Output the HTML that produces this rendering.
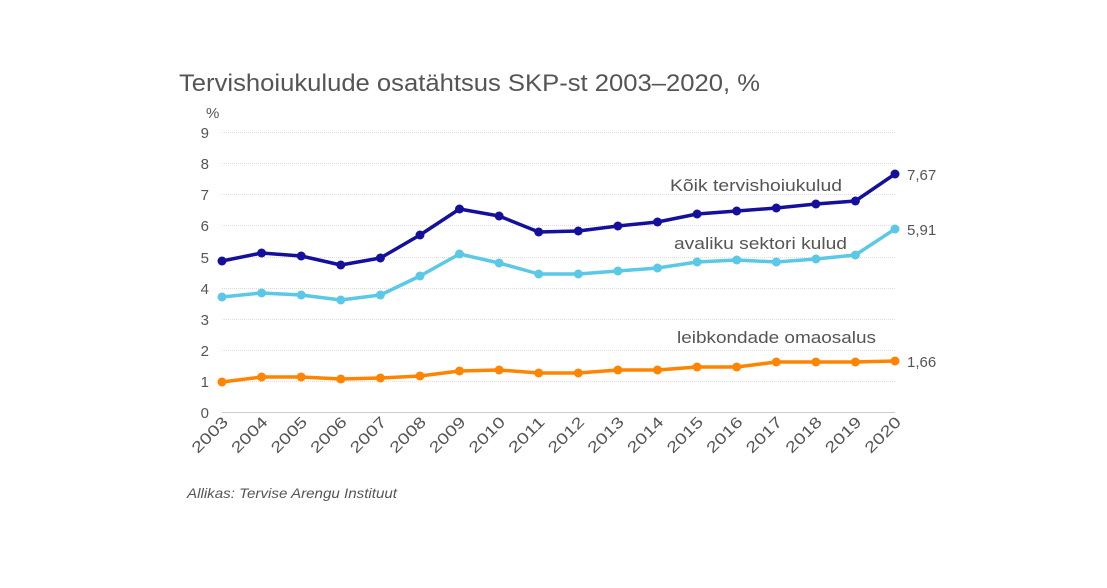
<!DOCTYPE html>
<html><head><meta charset="utf-8"><style>
html,body{margin:0;padding:0;background:#fff;}
svg text{font-family:"Liberation Sans",sans-serif;fill:#555;}
</style></head><body>
<svg width="1107" height="583" viewBox="0 0 1107 583" xmlns="http://www.w3.org/2000/svg">
<text x="179" y="91" font-size="24" textLength="581" lengthAdjust="spacingAndGlyphs">Tervishoiukulude osatähtsus SKP-st 2003–2020, %</text>
<text x="206" y="118" font-size="15">%</text>
<g stroke="#ddd" stroke-width="1" stroke-dasharray="1,1">
<line x1="222" x2="895" y1="132.5" y2="132.5"/><line x1="222" x2="895" y1="163.5" y2="163.5"/>
<line x1="222" x2="895" y1="194.5" y2="194.5"/><line x1="222" x2="895" y1="225.5" y2="225.5"/>
<line x1="222" x2="895" y1="257.5" y2="257.5"/><line x1="222" x2="895" y1="288.5" y2="288.5"/>
<line x1="222" x2="895" y1="319.5" y2="319.5"/><line x1="222" x2="895" y1="350.5" y2="350.5"/>
<line x1="222" x2="895" y1="381.5" y2="381.5"/>
</g>
<line x1="222" x2="895" y1="412.5" y2="412.5" stroke="#ccc"/>
<g font-size="15" text-anchor="end">
<text x="209" y="138">9</text><text x="209" y="169">8</text><text x="209" y="200">7</text>
<text x="209" y="231">6</text><text x="209" y="263">5</text><text x="209" y="294">4</text>
<text x="209" y="325">3</text><text x="209" y="356">2</text><text x="209" y="387">1</text>
<text x="209" y="418">0</text>
</g>
<g font-size="15.5" text-anchor="end">
<text transform="translate(229,423) rotate(-45)" textLength="44" lengthAdjust="spacingAndGlyphs">2003</text>
<text transform="translate(268.6,423) rotate(-45)" textLength="44" lengthAdjust="spacingAndGlyphs">2004</text>
<text transform="translate(308.2,423) rotate(-45)" textLength="44" lengthAdjust="spacingAndGlyphs">2005</text>
<text transform="translate(347.8,423) rotate(-45)" textLength="44" lengthAdjust="spacingAndGlyphs">2006</text>
<text transform="translate(387.4,423) rotate(-45)" textLength="44" lengthAdjust="spacingAndGlyphs">2007</text>
<text transform="translate(427,423) rotate(-45)" textLength="44" lengthAdjust="spacingAndGlyphs">2008</text>
<text transform="translate(466.5,423) rotate(-45)" textLength="44" lengthAdjust="spacingAndGlyphs">2009</text>
<text transform="translate(506.1,423) rotate(-45)" textLength="44" lengthAdjust="spacingAndGlyphs">2010</text>
<text transform="translate(545.7,423) rotate(-45)" textLength="44" lengthAdjust="spacingAndGlyphs">2011</text>
<text transform="translate(585.3,423) rotate(-45)" textLength="44" lengthAdjust="spacingAndGlyphs">2012</text>
<text transform="translate(624.9,423) rotate(-45)" textLength="44" lengthAdjust="spacingAndGlyphs">2013</text>
<text transform="translate(664.5,423) rotate(-45)" textLength="44" lengthAdjust="spacingAndGlyphs">2014</text>
<text transform="translate(704.1,423) rotate(-45)" textLength="44" lengthAdjust="spacingAndGlyphs">2015</text>
<text transform="translate(743.7,423) rotate(-45)" textLength="44" lengthAdjust="spacingAndGlyphs">2016</text>
<text transform="translate(783.3,423) rotate(-45)" textLength="44" lengthAdjust="spacingAndGlyphs">2017</text>
<text transform="translate(822.9,423) rotate(-45)" textLength="44" lengthAdjust="spacingAndGlyphs">2018</text>
<text transform="translate(862.4,423) rotate(-45)" textLength="44" lengthAdjust="spacingAndGlyphs">2019</text>
<text transform="translate(902,423) rotate(-45)" textLength="44" lengthAdjust="spacingAndGlyphs">2020</text>
</g>
<g fill="none" stroke-width="3.5" stroke-linejoin="round">
<polyline stroke="#15109c" points="222,261 261.6,253 301.2,256 340.8,265 380.4,258 420,235 459.5,209 499.1,216 538.7,232 578.3,231 617.9,226 657.5,222 697.1,214 736.7,211 776.3,208 815.9,204 855.4,201 895,174"/>
<polyline stroke="#5bc8e8" points="222,297 261.6,293 301.2,295 340.8,300 380.4,295 420,276 459.5,254 499.1,263 538.7,274 578.3,274 617.9,271 657.5,268 697.1,262 736.7,260 776.3,262 815.9,259 855.4,255 895,229"/>
<polyline stroke="#ff8400" points="222,382 261.6,377 301.2,377 340.8,379 380.4,378 420,376 459.5,371 499.1,370 538.7,373 578.3,373 617.9,370 657.5,370 697.1,367 736.7,367 776.3,362 815.9,362 855.4,362 895,361"/>
</g>
<g fill="#15109c">
<circle cx="222" cy="261" r="4.5"/><circle cx="261.6" cy="253" r="4.5"/><circle cx="301.2" cy="256" r="4.5"/><circle cx="340.8" cy="265" r="4.5"/><circle cx="380.4" cy="258" r="4.5"/><circle cx="420" cy="235" r="4.5"/><circle cx="459.5" cy="209" r="4.5"/><circle cx="499.1" cy="216" r="4.5"/><circle cx="538.7" cy="232" r="4.5"/><circle cx="578.3" cy="231" r="4.5"/><circle cx="617.9" cy="226" r="4.5"/><circle cx="657.5" cy="222" r="4.5"/><circle cx="697.1" cy="214" r="4.5"/><circle cx="736.7" cy="211" r="4.5"/><circle cx="776.3" cy="208" r="4.5"/><circle cx="815.9" cy="204" r="4.5"/><circle cx="855.4" cy="201" r="4.5"/><circle cx="895" cy="174" r="4.5"/>
</g>
<g fill="#5bc8e8">
<circle cx="222" cy="297" r="4.5"/><circle cx="261.6" cy="293" r="4.5"/><circle cx="301.2" cy="295" r="4.5"/><circle cx="340.8" cy="300" r="4.5"/><circle cx="380.4" cy="295" r="4.5"/><circle cx="420" cy="276" r="4.5"/><circle cx="459.5" cy="254" r="4.5"/><circle cx="499.1" cy="263" r="4.5"/><circle cx="538.7" cy="274" r="4.5"/><circle cx="578.3" cy="274" r="4.5"/><circle cx="617.9" cy="271" r="4.5"/><circle cx="657.5" cy="268" r="4.5"/><circle cx="697.1" cy="262" r="4.5"/><circle cx="736.7" cy="260" r="4.5"/><circle cx="776.3" cy="262" r="4.5"/><circle cx="815.9" cy="259" r="4.5"/><circle cx="855.4" cy="255" r="4.5"/><circle cx="895" cy="229" r="4.5"/>
</g>
<g fill="#ff8400">
<circle cx="222" cy="382" r="4.5"/><circle cx="261.6" cy="377" r="4.5"/><circle cx="301.2" cy="377" r="4.5"/><circle cx="340.8" cy="379" r="4.5"/><circle cx="380.4" cy="378" r="4.5"/><circle cx="420" cy="376" r="4.5"/><circle cx="459.5" cy="371" r="4.5"/><circle cx="499.1" cy="370" r="4.5"/><circle cx="538.7" cy="373" r="4.5"/><circle cx="578.3" cy="373" r="4.5"/><circle cx="617.9" cy="370" r="4.5"/><circle cx="657.5" cy="370" r="4.5"/><circle cx="697.1" cy="367" r="4.5"/><circle cx="736.7" cy="367" r="4.5"/><circle cx="776.3" cy="362" r="4.5"/><circle cx="815.9" cy="362" r="4.5"/><circle cx="855.4" cy="362" r="4.5"/><circle cx="895" cy="361" r="4.5"/>
</g>
<g font-size="17">
<text x="670" y="191" textLength="172" lengthAdjust="spacingAndGlyphs">Kõik tervishoiukulud</text>
<text x="674" y="249" textLength="173" lengthAdjust="spacingAndGlyphs">avaliku sektori kulud</text>
<text x="677" y="343" textLength="199" lengthAdjust="spacingAndGlyphs">leibkondade omaosalus</text>
<text x="907" y="180" font-size="15">7,67</text>
<text x="907" y="235" font-size="15">5,91</text>
<text x="907" y="367" font-size="15">1,66</text>
</g>
<text x="187" y="498" font-size="14" font-style="italic" textLength="210" lengthAdjust="spacingAndGlyphs">Allikas: Tervise Arengu Instituut</text>
</svg>
</body></html>
